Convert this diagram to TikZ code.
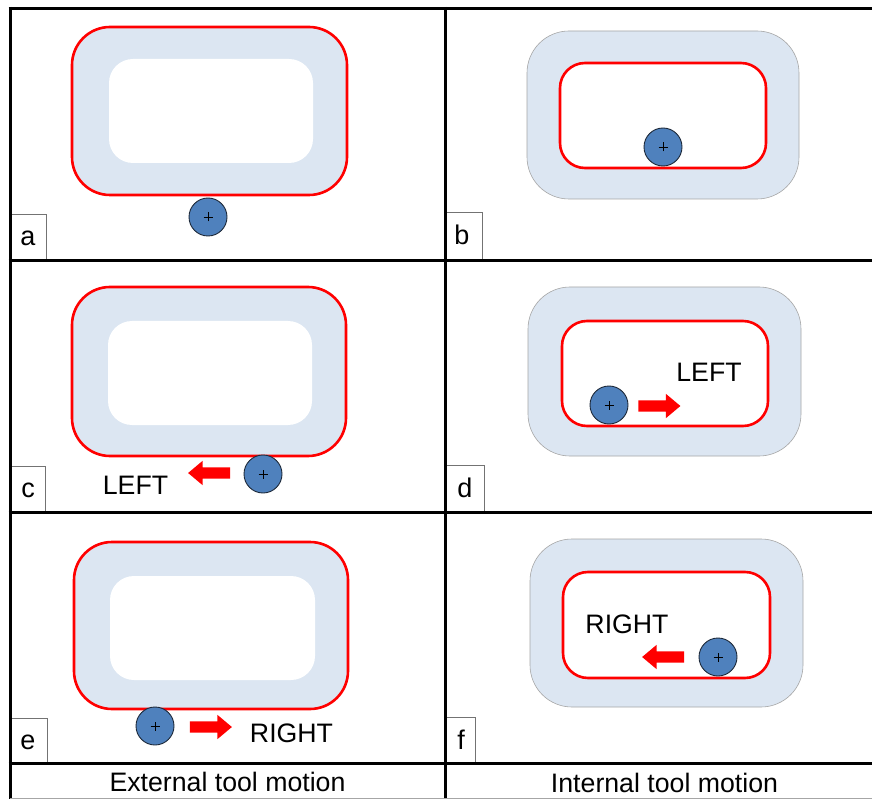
\documentclass[tikz,border=0pt]{standalone}
\usepackage{fontspec}
\setmainfont{Liberation Sans}
\usetikzlibrary{shapes.arrows}
\definecolor{partfill}{HTML}{DCE6F2}
\definecolor{pathred}{HTML}{FF0000}
\definecolor{toolfill}{HTML}{4F81BD}
\definecolor{tooledge}{HTML}{1E2A3A}
\definecolor{pocketedge}{HTML}{A6A6A6}
\begin{document}
\begin{tikzpicture}[x=1pt,y=-1pt,
  frame/.style={line width=3pt,black},
  thinframe/.style={line width=0.8pt,black!35},
  labelbox/.style={draw=black!55,line width=0.8pt},
  partouter/.style={fill=partfill,draw=pathred,line width=2.6pt,rounded corners=38pt},
  parthole/.style={fill=white,rounded corners=24pt},
  pocket/.style={fill=partfill,draw=pocketedge,line width=0.6pt,rounded corners=42pt},
  toolpath/.style={fill=white,draw=pathred,line width=2.6pt,rounded corners=25pt},
  tool/.style={circle,minimum size=38pt,inner sep=0pt,fill=toolfill,draw=tooledge,line width=0.9pt,
    path picture={\draw[line width=0.7pt,black]
      (path picture bounding box.center) ++(-4.5pt,0pt) -- ++(9pt,0pt)
      (path picture bounding box.center) ++(0pt,-4.5pt) -- ++(0pt,9pt);}},
  motion/.style={single arrow,fill=pathred,draw=none,inner sep=5.5pt,minimum height=42pt,
    single arrow head extend=6.5pt,single arrow tip angle=80},
  toleft/.style={motion,shape border rotate=180},
  toright/.style={motion},
  txt/.style={inner sep=0pt,anchor=base,font=\fontsize{26.7}{32}\selectfont},
  tag/.style={inner sep=0pt,anchor=base,font=\fontsize{27}{32}\selectfont}]
\useasboundingbox (0,0) rectangle (872,799);
\fill[white] (0,0) rectangle (872,799);

% --- a: external contour, tool below the part
\draw[partouter] (72,27) rectangle (347,195);
\fill[parthole] (109,59) rectangle (313,163);
\node[tool] (ta) at (208,217) {};

% --- b: internal pocket, tool inside
\draw[pocket] (527,31) rectangle (799,199);
\draw[toolpath] (560,63) rectangle (766,168);
\node[tool] (tb) at (663,147) {};

% --- c: external contour, moving left
\draw[partouter] (72,287) rectangle (346,456);
\fill[parthole] (108,321) rectangle (312,425);
\node[tool] (tc) at (263,474) {};
\node[toleft] (ac) at (212.5,473) {};
\node[txt] (lc) at (135.5,494) {LEFT};

% --- d: internal pocket, moving right
\draw[pocket] (528,287) rectangle (801,456);
\draw[toolpath] (562,321) rectangle (768,426);
\node[tool] (td) at (609,405) {};
\node[toright] (ad) at (656,406) {};
\node[txt] (ld) at (709,381) {LEFT};

% --- e: external contour, moving right
\draw[partouter] (74,542) rectangle (348,709);
\fill[parthole] (110,576) rectangle (315,680);
\node[tool] (te) at (155,726) {};
\node[toright] (ae) at (207.5,727) {};
\node[txt] (le) at (291.5,742) {RIGHT};

% --- f: internal pocket, moving left
\draw[pocket] (530,539) rectangle (803,707);
\draw[toolpath] (563,572) rectangle (770,678);
\node[tool] (tf) at (718,657) {};
\node[toleft] (af) at (666.5,657) {};
\node[txt] (lf) at (627,633) {RIGHT};

% --- panel tags
\draw[labelbox] (10,214) rectangle (46,261);
\draw[labelbox] (445,212) rectangle (482,261);
\draw[labelbox] (10,466) rectangle (45,512);
\draw[labelbox] (445,465) rectangle (484,512);
\draw[labelbox] (10,718) rectangle (47,763);
\draw[labelbox] (445,717) rectangle (475,763);
\node[tag] (ga) at (28,246) {a};
\node[tag] (gb) at (462,245) {b};
\node[tag] (gc) at (28,497) {c};
\node[tag] (gd) at (465,497) {d};
\node[tag] (ge) at (28,749) {e};
\node[tag] (gf) at (461,749) {f};

% --- column captions
\node[txt] (cext) at (227.5,791) {External tool motion};
\node[txt] (cint) at (664.5,792) {Internal tool motion};

% --- grid
\draw[frame] (10,7) -- (10,799);
\draw[frame] (445,7) -- (445,799);
\draw[frame] (8.5,8.5) -- (872,8.5);
\draw[frame] (8.5,260.5) -- (872,260.5);
\draw[frame] (8.5,512) -- (872,512);
\draw[frame] (8.5,763) -- (872,763);
\draw[thinframe] (10,798) -- (872,798);
\end{tikzpicture}
\end{document}
